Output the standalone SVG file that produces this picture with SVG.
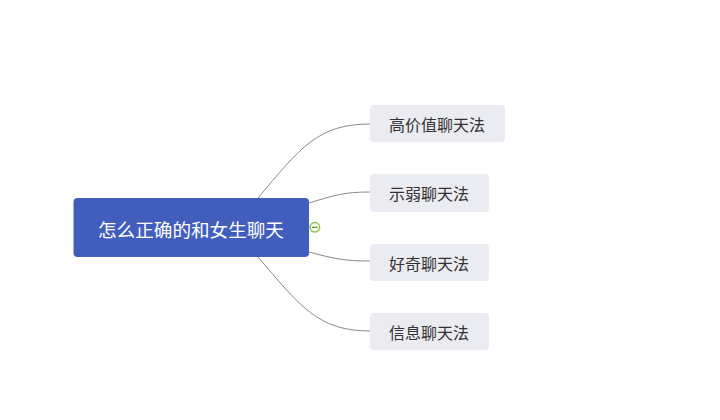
<svg xmlns="http://www.w3.org/2000/svg" width="720" height="420" viewBox="0 0 720 420">
<style>
.root{fill:#425EBD;}
.rt{fill:#ffffff;font-family:"Noto Sans CJK SC","Noto Sans",sans-serif;font-size:18.6px;}
.child{fill:#EBEBF2;}
.ct{fill:#333333;font-family:"Noto Sans CJK SC","Noto Sans",sans-serif;font-size:16px;}
.conn{fill:none;stroke:#8a8a8a;stroke-width:1;}
</style>
<rect width="720" height="420" fill="#ffffff"/>
<g id="connectors">
<path class="conn" d="M258,198 C300,148 318,124 370,124"/>
<path class="conn" d="M309,203 C335,195 345,192 370,192"/>
<path class="conn" d="M309,252 C335,259 345,261 370,261"/>
<path class="conn" d="M258,257 C300,306 318,331 370,331"/>
</g>
<g id="root">
<rect class="root" x="73.5" y="198" width="235.5" height="59" rx="4"/>
<text class="rt" x="191" y="228" text-anchor="middle" dominant-baseline="central">怎么正确的和女生聊天</text>
</g>
<g id="collapse">
<circle cx="314.8" cy="227.3" r="4.8" fill="#ffffff" stroke="#8BC34A" stroke-width="1.5"/>
<line x1="312" y1="227.3" x2="317.6" y2="227.3" stroke="#6A9F2E" stroke-width="1.4"/>
</g>
<g id="n1">
<rect class="child" x="370" y="105" width="135" height="37" rx="4"/>
<text class="ct" x="437" y="123.5" text-anchor="middle" dominant-baseline="central">高价值聊天法</text>
</g>
<g id="n2">
<rect class="child" x="370" y="174" width="119" height="38" rx="4"/>
<text class="ct" x="429" y="193" text-anchor="middle" dominant-baseline="central">示弱聊天法</text>
</g>
<g id="n3">
<rect class="child" x="370" y="244" width="119" height="37" rx="4"/>
<text class="ct" x="429" y="262.5" text-anchor="middle" dominant-baseline="central">好奇聊天法</text>
</g>
<g id="n4">
<rect class="child" x="370" y="313" width="119" height="37" rx="4"/>
<text class="ct" x="429" y="331.5" text-anchor="middle" dominant-baseline="central">信息聊天法</text>
</g>
</svg>
